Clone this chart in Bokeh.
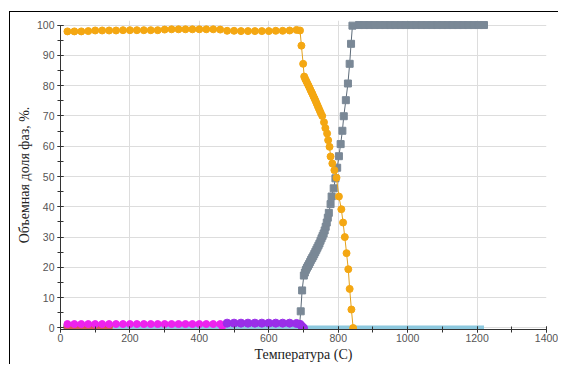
from bokeh.plotting import figure
from bokeh.models import SingleIntervalTicker, Range1d, GlobalInlineStyleSheet
from bokeh.embed import file_html
from bokeh.resources import INLINE

# ---- data ----
orange_x = [20, 40, 60, 80, 100, 120, 140, 160, 180, 200, 220, 240, 260, 280, 300, 320, 340,
            360, 380, 400, 420, 440, 460, 480, 500, 520, 540, 560, 580, 600, 620, 640, 660, 680,
            690, 694, 699, 702, 705, 708, 711, 714, 717, 720, 723, 726, 729, 732, 735, 738, 741,
            744, 747, 750, 754, 759, 763, 768, 771, 775, 778, 783, 789, 795, 802, 809, 814, 819,
            824, 829, 833, 838, 843]
orange_y = [97.9, 97.9, 97.9, 98.0, 98.2, 98.2, 98.2, 98.2, 98.3, 98.3, 98.3, 98.3, 98.3, 98.3,
            98.5, 98.6, 98.6, 98.6, 98.6, 98.6, 98.6, 98.6, 98.5, 98.1, 98.1, 98.0, 98.0, 98.0,
            98.0, 98.0, 98.1, 98.1, 98.2, 98.4,
            98.2, 93.2, 87.2, 83.0, 82.2, 81.5, 80.8, 80.1, 79.4, 78.6, 77.9, 77.2, 76.4, 75.7,
            74.9, 74.1, 73.3, 72.5, 71.7, 70.9, 70.0, 67.9, 66.0, 64.2, 62.0, 59.8, 56.6, 54.3,
            52.1, 49.6, 43.4, 39.2, 34.8, 30.0, 24.7, 19.4, 12.9, 6.1, 0.0]

gray_x = [20, 40, 60, 80, 100, 120, 140, 160, 180, 200, 220, 240, 260, 280, 300, 320, 340,
          360, 380, 400, 420, 440, 460, 480, 500, 520, 540, 560, 580, 600, 620, 640, 660, 680,
          688, 692, 696, 701, 704, 707, 710, 713, 716, 719, 722, 725, 728, 731, 734, 737, 740,
          743, 746, 749, 752, 755, 758, 761, 764, 767, 770, 773, 778, 781, 787, 792, 797, 802,
          807, 812, 816, 822, 828, 833, 837, 841, 860, 875, 890, 905, 920, 935, 950, 965, 980,
          995, 1010, 1025, 1040, 1055, 1070, 1085, 1100, 1115, 1130, 1145, 1160, 1175, 1190,
          1205, 1220]
gray_y = [0.0, 0.0, 0.0, 0.0, 0.0, 0.0, 0.0, 0.0, 0.0, 0.0, 0.0, 0.0, 0.0, 0.0, 0.0, 0.0, 0.0,
          0.0, 0.0, 0.0, 0.0, 0.0, 0.0, 0.0, 0.0, 0.0, 0.0, 0.0, 0.0, 0.0, 0.0, 0.0, 0.0, 0.0,
          0.0, 5.5, 12.4, 17.3, 18.3, 19.2, 19.9, 20.5, 21.1, 21.8, 22.5, 23.1, 23.7, 24.4, 25.1,
          25.8, 26.5, 27.2, 27.9, 28.8, 29.6, 30.4, 31.2, 32.2, 33.4, 34.8, 36.4, 38.0, 40.9,
          43.4, 46.1, 49.4, 52.9, 56.7, 60.7, 65.1, 69.9, 75.2, 80.7, 87.2, 93.8, 99.8, 100.0,
          100.0, 100.0, 100.0, 100.0, 100.0, 100.0, 100.0, 100.0, 100.0, 100.0, 100.0, 100.0,
          100.0, 100.0, 100.0, 100.0, 100.0, 100.0, 100.0, 100.0, 100.0, 100.0, 100.0, 100.0]

cyan_x = [20, 100, 200, 300, 400, 500, 600, 700, 800, 900, 1000, 1100, 1200, 1220]
cyan_y = [0.0, 0.0, 0.0, 0.0, 0.0, 0.0, 0.0, 0.0, 0.0, 0.0, 0.0, 0.0, 0.0, 0.0]

red_x = [20, 35, 50, 65, 80, 95, 110, 125, 140]
red_y = [0.4, 0.4, 0.4, 0.4, 0.4, 0.4, 0.4, 0.4, 0.4]

magenta_x = [20, 40, 60, 80, 100, 120, 140, 160, 180, 200, 220, 240, 260, 280, 300, 320, 340,
             360, 380, 400, 420, 440, 460, 466]
magenta_y = [1.3, 1.3, 1.3, 1.3, 1.3, 1.3, 1.3, 1.3, 1.3, 1.3, 1.3, 1.3, 1.3, 1.3, 1.3, 1.3,
             1.3, 1.3, 1.3, 1.3, 1.3, 1.3, 1.3, 0.6]

purple_x = [480, 500, 520, 540, 560, 580, 600, 620, 640, 660, 680, 690, 695, 700]
purple_y = [1.6, 1.6, 1.6, 1.6, 1.6, 1.6, 1.6, 1.6, 1.6, 1.6, 1.5, 1.2, 0.6, 0.0]

x_label = "Температура (C)"
y_label = "Объемная доля фаз, %."

# ---- figure ----
p = figure(width=558, height=364, output_backend="svg", toolbar_location=None,
           x_range=Range1d(0, 1400), y_range=Range1d(-0.5, 101.5),
           min_border_left=60, min_border_right=12, min_border_top=20, min_border_bottom=34)
p.outline_line_color = None
p.background_fill_color = "white"
p.border_fill_color = None
p.styles = {
    "background-color": "white",
    "background-image": "linear-gradient(#000, #000), linear-gradient(#000, #000)",
    "background-size": "100% 1px, 1px 100%",
    "background-position": "9px 11px, 9px 11px",
    "background-repeat": "no-repeat",
}
p.stylesheets = [GlobalInlineStyleSheet(css="html, body { overflow: hidden; }")]

p.xaxis.ticker = SingleIntervalTicker(interval=200, num_minor_ticks=2)
p.yaxis.ticker = SingleIntervalTicker(interval=10, num_minor_ticks=2)
p.xaxis.bounds = (0, 1400)
p.yaxis.bounds = (0, 100)

for ax in (p.xaxis, p.yaxis):
    ax.axis_line_color = "#333333"
    ax.major_tick_line_color = "#333333"
    ax.minor_tick_line_color = "#333333"
    ax.major_tick_in = 3
    ax.major_tick_out = 3
    ax.minor_tick_in = 3
    ax.minor_tick_out = 3
    ax.major_label_text_font = "Liberation Sans"
    ax.major_label_text_font_size = "10.5px"
    ax.major_label_text_color = "#555555"

p.xaxis.major_label_standoff = 1
p.yaxis.major_label_standoff = 3
p.xaxis.axis_label = x_label
p.yaxis.axis_label = y_label
for ax in (p.xaxis, p.yaxis):
    ax.axis_label_text_font = "Liberation Serif"
    ax.axis_label_text_font_size = "14px"
    ax.axis_label_text_font_style = "normal"
    ax.axis_label_text_color = "#222222"
    ax.axis_label_standoff = 2

p.xgrid.grid_line_color = "#dddddd"
p.ygrid.grid_line_color = "#dddddd"
p.xgrid.bounds = (0, 1300)

# ---- series ----
p.line(gray_x, gray_y, line_color="#5d6b79", line_width=1)
p.scatter(gray_x, gray_y, marker="square", size=7, fill_color="#7a8896", line_color="#7a8896")

p.line(cyan_x, cyan_y, line_color="#8cc8de", line_width=5)

p.scatter(red_x, red_y, marker="circle", size=7, fill_color="#d65b55", line_color="#d65b55")

p.scatter(magenta_x, magenta_y, marker="circle", size=7, fill_color="#ee22ee", line_color="#ee22ee")

p.scatter(purple_x, purple_y, marker="circle", size=8, fill_color="#9a2ee8", line_color="#9a2ee8")

p.line(orange_x, orange_y, line_color="#e3a11c", line_width=1)
p.scatter(orange_x, orange_y, marker="circle", size=7, fill_color="#f4a712", line_color="#f4a712")

open("out.html", "w").write(file_html(p, INLINE))
